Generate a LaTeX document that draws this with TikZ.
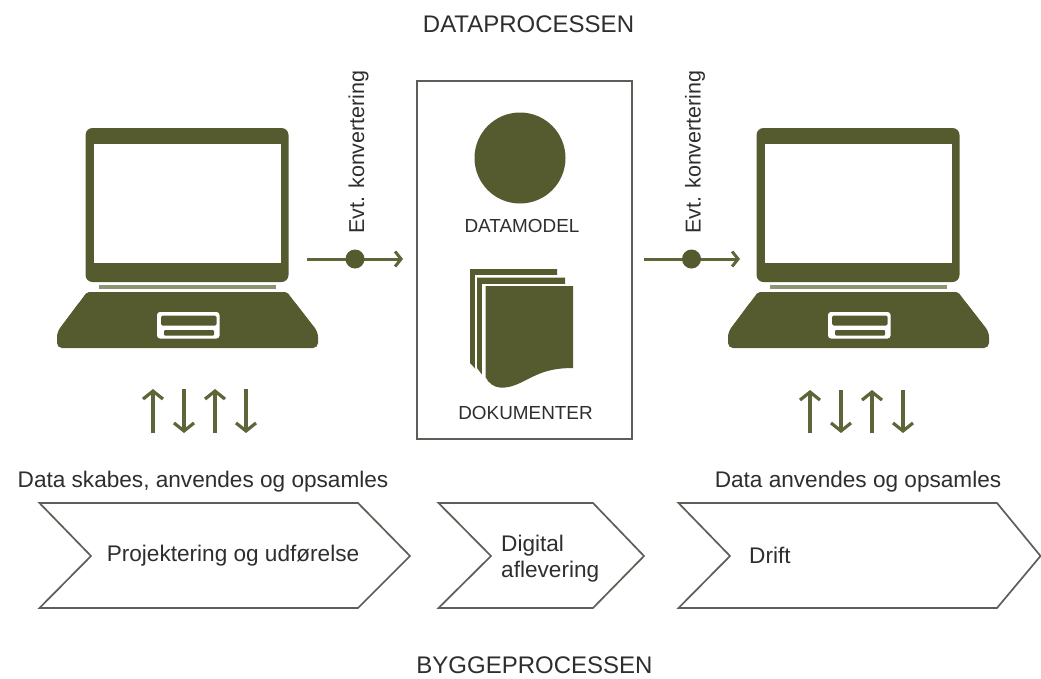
\documentclass[tikz,border=0pt]{standalone}
\usepackage{fontspec}
\setmainfont{Liberation Sans}
\usetikzlibrary{arrows.meta}
\definecolor{olive}{HTML}{555B2E}
\definecolor{arrowolive}{HTML}{5C6638}
\definecolor{framegray}{HTML}{5E5E58}
\definecolor{inkgray}{HTML}{2E2E2E}
\newcommand{\fs}[1]{\fontsize{#1}{#1}\selectfont}
\tikzset{
  title/.style={text=inkgray,font=\fs{24},inner sep=0pt,anchor=center},
  caption/.style={text=inkgray,font=\fs{21.5},inner sep=0pt,anchor=center},
  label/.style={text=inkgray,font=\fs{22.6},inner sep=0pt,anchor=center},
  smallcaps/.style={text=inkgray,font=\fs{18.9},inner sep=0pt,anchor=center},
  chev/.style={draw=framegray,line width=1.7pt,line join=miter,fill=white},
  flow/.style={draw=arrowolive,line width=3pt,-{Straight Barb[length=6pt,width=15pt,line width=3pt]}},
  vert/.style={draw=arrowolive,line width=3.2pt,-{Straight Barb[length=8pt,width=20pt,line width=3.2pt]}},
  dotnode/.style={circle,fill=olive,inner sep=0pt,minimum size=19pt},
  laptop/.pic={
    \fill[olive,rounded corners=7pt] (85.5,128) rectangle (288.5,282);
    \fill[white] (93.5,144) rectangle (280.5,263);
    \fill[arrowolive!70!white] (99,285) rectangle (276,289);
    \fill[olive,rounded corners=2pt] (87,292) -- (287,292) -- (316,330) -- (316,340) -- (59,340) -- (59,330) -- cycle;
    \fill[olive,rounded corners=5pt] (81,300) -- (293,300) -- (318,332) -- (318,348) -- (57,348) -- (57,332) -- cycle;
    \fill[white,rounded corners=3pt] (157,312) rectangle (219.5,338.5);
    \fill[olive,rounded corners=1.5pt] (161,315.5) rectangle (216.5,325.5);
    \fill[olive,rounded corners=1pt] (164,330) rectangle (214,335.5);
  }
}
\begin{document}
\begin{tikzpicture}[x=1pt,y=-1pt]
\useasboundingbox (0,0) rectangle (1041,678);
\fill[white] (0,0) rectangle (1041,678);

\node[title] (dp) at (528.5,24.5) {DATAPROCESSEN};
\node[title] (bp) at (534.5,665.5) {BYGGEPROCESSEN};

% laptops
\pic (lapl) at (0,0) {laptop};
\pic (lapr) at (671,0) {laptop};

% central box
\node[draw=framegray,line width=1.5pt,fill=white,minimum width=215pt,minimum height=358pt,inner sep=0pt] (box) at (524.5,260) {};
\node[circle,fill=olive,inner sep=0pt,minimum size=91pt] (model) at (520,158) {};
\node[smallcaps] (dmlabel) at (522,226) {DATAMODEL};
\node[smallcaps] (doclabel) at (525.5,413) {DOKUMENTER};

% documents
\fill[olive] (470,269) -- (557,269) -- (557,300) -- (484,378) -- (470,363) -- cycle;
\fill[white] (475,275) -- (565,275) -- (565,284) -- (484,284) -- (484,382) -- (475,368) -- cycle;
\fill[olive] (477,277.5) -- (565,277.5) -- (565,300) -- (486,380) -- (477,368) -- cycle;
\fill[white] (482,284) -- (575,284) -- (575,372) -- (500,392) -- (482,380) -- cycle;
\fill[olive] (485.5,286) -- (573,286) -- (573,368)
  .. controls (545,368) and (535,376) .. (520,383)
  .. controls (505,390) and (492,390) .. (485.5,377) -- cycle;

% conversion arrows
\coordinate (a1s) at (307,259);
\coordinate (a1e) at (403,259);
\coordinate (a2s) at (644,259);
\coordinate (a2e) at (740,259);
\draw[flow] (a1s) -- (a1e);
\draw[flow] (a2s) -- (a2e);
\node[dotnode] (d1) at (355,259) {};
\node[dotnode] (d2) at (691.5,259) {};
\node[caption,rotate=90] (k1) at (358.5,152) {Evt. konvertering};
\node[caption,rotate=90] (k2) at (695,152) {Evt. konvertering};

% vertical arrows, left
\coordinate (u1b) at (153,433); \coordinate (u1t) at (153,389);
\coordinate (d1t) at (184,389); \coordinate (d1b) at (184,433);
\coordinate (u2b) at (215,433); \coordinate (u2t) at (215,389);
\coordinate (d2t) at (246,389); \coordinate (d2b) at (246,433);
\draw[vert] (u1b) -- (u1t);
\draw[vert] (d1t) -- (d1b);
\draw[vert] (u2b) -- (u2t);
\draw[vert] (d2t) -- (d2b);
% vertical arrows, right
\coordinate (u3b) at (810,433); \coordinate (u3t) at (810,390);
\coordinate (d3t) at (841,390); \coordinate (d3b) at (841,433);
\coordinate (u4b) at (872,433); \coordinate (u4t) at (872,390);
\coordinate (d4t) at (903,390); \coordinate (d4b) at (903,433);
\draw[vert] (u3b) -- (u3t);
\draw[vert] (d3t) -- (d3b);
\draw[vert] (u4b) -- (u4t);
\draw[vert] (d4t) -- (d4b);

\node[label] (l1) at (203,481.5) {Data skabes, anvendes og opsamles};
\node[label] (l2) at (858,481.5) {Data anvendes og opsamles};

% chevrons
\draw[chev] (39.5,503) -- (358,503) -- (410,556) -- (358,608) -- (39.5,608) -- (91,556) -- cycle;
\draw[chev] (438.5,503) -- (593,503) -- (644,556) -- (593,608) -- (438.5,608) -- (491,556) -- cycle;
\draw[chev] (678.5,503) -- (997,503) -- (1040.5,556) -- (997,608) -- (678.5,608) -- (730,556) -- cycle;

\node[label] (t1) at (233,555.5) {Projektering og udførelse};
\node[label,anchor=west] (t2a) at (501,546) {Digital};
\node[label,anchor=west] (t2b) at (501,572) {aflevering};
\node[label,anchor=west] (t3) at (749,555) {Drift};
\end{tikzpicture}
\end{document}
